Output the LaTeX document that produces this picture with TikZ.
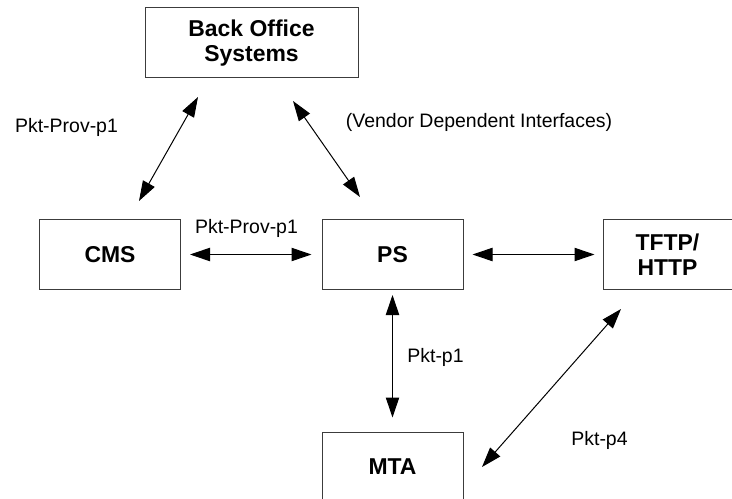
\documentclass[tikz,border=0pt]{standalone}
\usepackage{fontspec}
\setmainfont{Liberation Sans}
\usetikzlibrary{arrows.meta}

\tikzset{
  sysbox/.style={draw={rgb,255:red,60;green,60;blue,60}, line width=0.75pt, align=center,
    font=\fontsize{17.2}{19}\selectfont\bfseries, minimum width=105.75pt, minimum height=52.5pt, inner sep=0pt},
  lnk/.style={line width=0.75pt, {Triangle[length=15pt,width=10pt]}-{Triangle[length=15pt,width=10pt]}},
  lbl/.style={font=\fontsize{14.6}{17}\selectfont}
}

\begin{document}
\begin{tikzpicture}[x=0.75pt,y=0.75pt,yscale=-1]
\path[use as bounding box] (0,0) rectangle (732,499);

%Shape: Rectangle [Back Office]
\node[sysbox, minimum width=159.75pt] (bos) at (251.5,43) {Back Office\\Systems};
%Shape: Rectangle [CMS]
\node[sysbox] (cms) at (110,254.5) {CMS};
%Shape: Rectangle [PS]
\node[sysbox] (ps) at (392.5,254.5) {PS};
%Shape: Rectangle [TFTP]
\node[sysbox, minimum width=96.75pt] (tftp) at (667.5,254.5) {TFTP/\\HTTP};
%Shape: Rectangle [MTA]
\node[sysbox] (mta) at (392.5,467) {MTA};

%Straight Lines [ends]
\coordinate (bosL) at (198,97);
\coordinate (cmsT) at (139,201);
\coordinate (bosR) at (293,101);
\coordinate (psT) at (360,197);
\coordinate (mtaE) at (482,467);
\coordinate (tftpS) at (621,309);

%Straight Lines
\draw[lnk] (bosL) -- (cmsT);
\draw[lnk] (bosR) -- (psT);
\draw[lnk, shorten <=9pt*0.75, shorten >=10pt*0.75] (cms.east) -- (ps.west);
\draw[lnk, shorten <=9pt*0.75, shorten >=8pt*0.75] (ps.east) -- (tftp.west);
\draw[lnk, shorten <=5pt*0.75, shorten >=14pt*0.75] (ps.south) -- (mta.north);
\draw[lnk] (mtaE) -- (tftpS);

% Text Node
\node[lbl] (t1) at (66.5,127) {Pkt-Prov-p1};
% Text Node
\node[lbl] (t2) at (479,122) {(Vendor Dependent Interfaces)};
% Text Node
\node[lbl] (t3) at (246.5,228) {Pkt-Prov-p1};
% Text Node
\node[lbl] (t4) at (435.5,357) {Pkt-p1};
% Text Node
\node[lbl] (t5) at (599.5,440) {Pkt-p4};

\end{tikzpicture}
\end{document}
